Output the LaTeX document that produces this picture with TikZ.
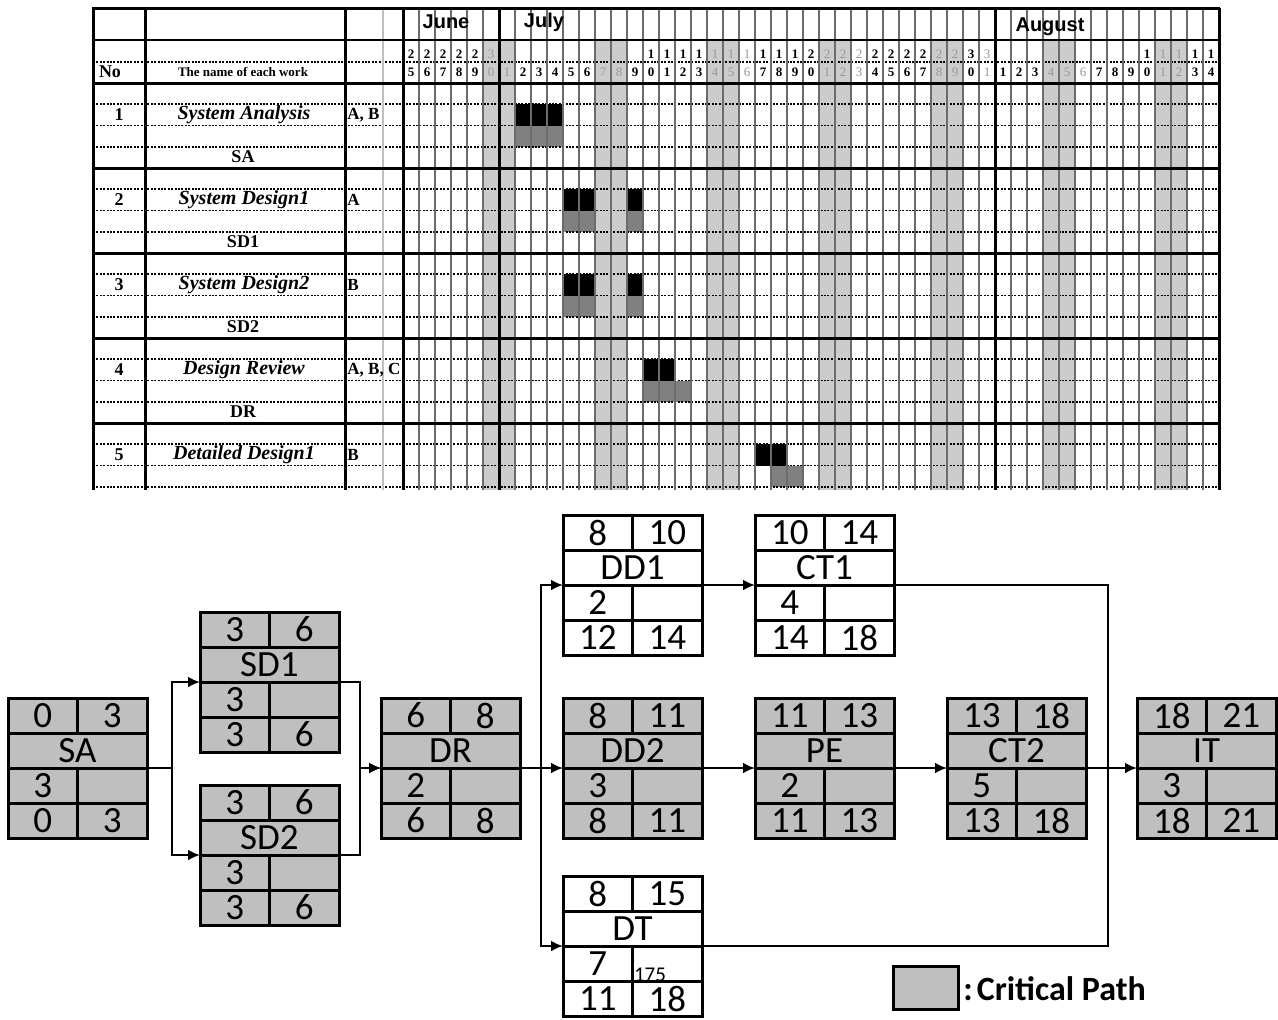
\documentclass[tikz,border=0pt]{standalone}
\usepackage{fontspec}
\setmainfont{Carlito}
\newfontfamily\gserif{Liberation Serif}
\newfontfamily\gsans{Liberation Sans}
\usetikzlibrary{arrows.meta}
\definecolor{critgray}{RGB}{191,191,191}
\definecolor{wkgray}{RGB}{204,204,204}
\definecolor{bargray}{RGB}{128,128,128}
% contents of an activity box: node, ES, EF, name, duration, LS, LF
\newcommand\actcont[7]{%
  \draw[inner] ([yshift=-17.5pt]#1.north west) -- ([yshift=-17.5pt]#1.north east);
  \draw[inner] (#1.west) -- (#1.east);
  \draw[inner] ([yshift=17.5pt]#1.south west) -- ([yshift=17.5pt]#1.south east);
  \draw[inner] (#1.north) -- ([yshift=-17.5pt]#1.north);
  \draw[inner] (#1.center) -- (#1.south);
  \node[num] (#1-es) at ([xshift=-17.375pt,yshift=-8.75pt]#1.north) {#2};
  \node[num] (#1-ef) at ([xshift=17.375pt,yshift=-8.75pt]#1.north) {#3};
  \node[num] (#1-nm) at ([yshift=-26.25pt]#1.north) {#4};
  \node[num] (#1-du) at ([xshift=-17.375pt,yshift=-8.75pt]#1.center) {#5};
  \node[num] (#1-ls) at ([xshift=-17.375pt,yshift=8.75pt]#1.south) {#6};
  \node[num] (#1-lf) at ([xshift=17.375pt,yshift=8.75pt]#1.south) {#7};
}
% day header digits: column index, style
\newcommand\daydig[2]{%
  \pgfmathtruncatemacro\dd{#1<6 ? #1+25 : (#1<37 ? #1-5 : #1-36)}%
  \pgfmathtruncatemacro\tn{int(\dd/10)}%
  \pgfmathtruncatemacro\un{mod(\dd,10)}%
  \ifnum\dd>9 \node[#2] (dt#1) at ({411+16*#1},54) {\tn};\fi
  \node[#2] (du#1) at ({411+16*#1},72) {\un};
}
\begin{document}
\begin{tikzpicture}[x=0.5pt,y=-0.5pt,
  boxbase/.style={rectangle,draw=black,line width=1.5pt,minimum width=69.5pt,minimum height=70pt,inner sep=0pt,outer sep=0pt},
  crit/.style={boxbase,fill=critgray},
  noncrit/.style={boxbase,fill=white},
  inner/.style={line width=1.5pt},
  num/.style={inner sep=0pt,font=\fontsize{18.5}{18.5}\selectfont},
  conn/.style={line width=1.3pt},
  arr/.style={conn,-{Latex[length=6pt,width=5.5pt]}},
  thickl/.style={line width=1.5pt,black},
  medl/.style={line width=1.1pt,black},
  dayl/.style={line width=1.1pt,black!58},
  dotl/.style={line width=0.8pt,black,dash pattern=on 1pt off 0.7pt},
  dblack/.style={inner sep=0pt,font=\gserif\bfseries\fontsize{6.5}{6.5}\selectfont},
  dgray/.style={inner sep=0pt,text=black!40,font=\gserif\fontsize{6.5}{6.5}\selectfont},
  gtxt/.style={inner sep=0pt,font=\gserif\bfseries\fontsize{9}{9}\selectfont},
  gtask/.style={inner sep=0pt,font=\gserif\bfseries\itshape\fontsize{10}{10}\selectfont},
  gres/.style={inner sep=0pt,anchor=west,font=\gserif\bfseries\fontsize{8.5}{8.5}\selectfont},
  gmonth/.style={inner sep=0pt,font=\gsans\bfseries\fontsize{10}{10}\selectfont}]
\useasboundingbox (0,0) rectangle (1278,1019);
\fill[white] (0,0) rectangle (1278,1019);

% ================= Gantt chart =================
\foreach \k in {5,6,12,13,19,20,26,27,33,34,40,41,47,48}
  \fill[wkgray] ({403+16*\k},40) rectangle ({419+16*\k},490);
% schedule bars
\foreach \t/\k in {0/7,0/8,0/9,1/10,1/11,1/14,2/10,2/11,2/14,3/15,3/16,4/22,4/23}
  \fill[black] ({403+16*\k},{83+85*\t+21.25}) rectangle ({419+16*\k},{83+85*\t+42.5});
\foreach \t/\k in {0/7,0/8,0/9,1/10,1/11,1/14,2/10,2/11,2/14,3/15,3/16,3/17,4/23,4/24}
  \fill[bargray] ({403+16*\k},{83+85*\t+42.5}) rectangle ({419+16*\k},{83+85*\t+63.75});
% horizontal lines
\draw[dotl] (93,62) -- (1219,62);
\foreach \t in {0,...,4}
  \foreach \s in {21.25,42.5,63.75}
    \draw[dotl] (93,{83+85*\t+\s}) -- (1219,{83+85*\t+\s});
% vertical lines
\draw[line width=1pt,black!25] (383,8) -- (383,490);
\foreach \k in {1,...,50}
  \draw[dayl] ({403+16*\k},8) -- ({403+16*\k},490);
\foreach \x in {93,145,345,403,499,995,1219}
  \draw[thickl] (\x,8) -- (\x,490);
\draw[thickl] (92,8) -- (1220,8);
\draw[medl] (93,40) -- (1219,40);
\foreach \y in {83,168,253,338,423}
  \draw[thickl] (93,\y) -- (1219,\y);
% header texts
\node[gmonth] (june) at (446,22) {June};
\node[gmonth] (july) at (544,22) {July};
\node[gmonth] (aug) at (1050,27) {August};
\foreach \k in {0,1,2,3,4,7,8,9,10,11,14,15,16,17,18,22,23,24,25,29,30,31,32,35,37,38,39,43,44,45,46,49,50}
  {\daydig{\k}{dblack}}
\foreach \k in {5,6,12,13,19,20,21,26,27,28,33,34,36,40,41,42,47,48}
  {\daydig{\k}{dgray}}
\node[gtxt] (hno) at (110,72) {No};
\node[gtxt,font=\gserif\bfseries\fontsize{6.5}{6.5}\selectfont] (hname) at (243,72) {The name of each work};
% task rows
\node[gtxt] (n1) at (119,115) {1};
\node[gtask] (t1) at (244,115) {System Analysis};
\node[gres] (r1) at (347,115) {A, B};
\node[gtxt] (s1) at (243,157) {SA};
\node[gtxt] (n2) at (119,200) {2};
\node[gtask] (t2) at (244,200) {System Design1};
\node[gres] (r2) at (347,200) {A};
\node[gtxt] (s2) at (243,242) {SD1};
\node[gtxt] (n3) at (119,285) {3};
\node[gtask] (t3) at (244,285) {System Design2};
\node[gres] (r3) at (347,285) {B};
\node[gtxt] (s3) at (243,327) {SD2};
\node[gtxt] (n4) at (119,370) {4};
\node[gtask] (t4) at (244,370) {Design Review};
\node[gres] (r4) at (347,370) {A, B, C};
\node[gtxt] (s4) at (243,412) {DR};
\node[gtxt] (n5) at (119,455) {5};
\node[gtask] (t5) at (244,455) {Detailed Design1};
\node[gres] (r5) at (347,455) {B};

% ================= Network diagram =================
\node[crit] (SA) at (77.5,768) {};
\node[crit] (SD1) at (269.5,682) {};
\node[crit] (SD2) at (269.5,855) {};
\node[crit] (DR) at (450.5,768) {};
\node[noncrit] (DD1) at (632.5,585) {};
\node[noncrit] (CT1) at (824.5,585) {};
\node[crit] (DD2) at (632.5,768) {};
\node[crit] (PE) at (824.5,768) {};
\node[crit] (CT2) at (1016.5,768) {};
\node[crit] (IT) at (1206.5,768) {};
\node[noncrit] (DT) at (632.5,946) {};
\actcont{SA}{0}{3}{SA}{3}{0}{3}
\actcont{SD1}{3}{6}{SD1}{3}{3}{6}
\actcont{SD2}{3}{6}{SD2}{3}{3}{6}
\actcont{DR}{6}{8}{DR}{2}{6}{8}
\actcont{DD1}{8}{10}{DD1}{2}{12}{14}
\actcont{CT1}{10}{14}{CT1}{4}{14}{18}
\actcont{DD2}{8}{11}{DD2}{3}{8}{11}
\actcont{PE}{11}{13}{PE}{2}{11}{13}
\actcont{CT2}{13}{18}{CT2}{5}{13}{18}
\actcont{IT}{18}{21}{IT}{3}{18}{21}
\actcont{DT}{8}{15}{DT}{7}{11}{18}
\node[inner sep=0pt,font=\fontsize{10.5}{10.5}\selectfont] (pg) at (650,975) {175};

\coordinate (j1) at (172,768);
\coordinate (j2) at (360,768);
\coordinate (j3) at (541,768);
\coordinate (j4) at (1108,768);
\draw[arr] (SA.east) -- (j1) |- (SD1.west);
\draw[arr] (SA.east) -- (j1) |- (SD2.west);
\draw[arr] (SD1.east) -| (j2) -- (DR.west);
\draw[arr] (SD2.east) -| (j2) -- (DR.west);
\draw[arr] (DR.east) -- (DD2.west);
\draw[arr] (DR.east) -- (j3) |- (DD1.west);
\draw[arr] (DR.east) -- (j3) |- (DT.west);
\draw[arr] (DD1.east) -- (CT1.west);
\draw[arr] (DD2.east) -- (PE.west);
\draw[arr] (PE.east) -- (CT2.west);
\draw[arr] (CT2.east) -- (IT.west);
\draw[conn] (CT1.east) -| (j4);
\draw[conn] (DT.east) -| (j4);

% legend
\node[crit,minimum width=32.5pt,minimum height=21.5pt] (leg) at (925.5,987.5) {};
\node[inner sep=0pt,anchor=west,font=\bfseries\fontsize{17}{17}\selectfont] (legtxt) at (963,989) {:\kern2pt Critical Path};
\end{tikzpicture}
\end{document}
